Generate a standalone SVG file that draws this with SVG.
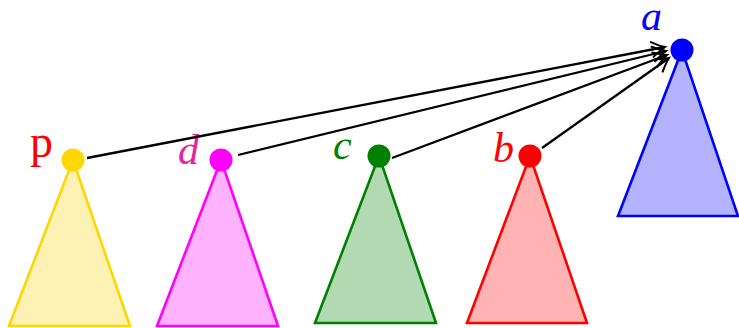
<svg xmlns="http://www.w3.org/2000/svg" width="739" height="328" viewBox="0 0 739 328">
<style>
.tri{stroke-width:2.6;stroke-linejoin:miter}
.lbl{font-family:"Liberation Serif",serif;font-style:italic;font-size:42px}
.mono{font-family:"Liberation Serif",serif;font-size:46px}
.edge{stroke:#000;stroke-width:2.3;fill:none;marker-end:url(#to)}
</style>
<defs>
<marker id="to" markerUnits="userSpaceOnUse" markerWidth="24" markerHeight="24" viewBox="-16 -12 18 24" refX="0" refY="0" orient="auto">
<path d="M -13 -7.5 Q -5 -2 0 0 Q -5 2 -13 7.5" fill="none" stroke="#000" stroke-width="2" stroke-linecap="round"/>
</marker>
</defs>
<g id="node-p">
<polygon class="tri" points="73,160 9,326 130,326" fill="#fdf1b3" stroke="#ffd700"/>
<circle cx="73" cy="160" r="11.5" fill="#ffd700"/>
<text class="mono" x="30" y="157" fill="#ff0000">p</text>
</g>
<g id="node-d">
<polygon class="tri" points="221,160 157,326 278,326" fill="#ffb3ff" stroke="#ff00ff"/>
<circle cx="221" cy="160" r="11.5" fill="#ff00ff"/>
<text class="lbl" x="178" y="164" fill="#e6229e">d</text>
</g>
<g id="node-c">
<polygon class="tri" points="379,156 315,323 436,323" fill="#b3d9b3" stroke="#008000"/>
<circle cx="379" cy="156" r="11.5" fill="#008000"/>
<text class="lbl" x="333" y="159" fill="#008000">c</text>
</g>
<g id="node-b">
<polygon class="tri" points="530,156 467,323 587,323" fill="#ffb3b3" stroke="#ff0000"/>
<circle cx="530" cy="156" r="11.5" fill="#ff0000"/>
<text class="lbl" x="493" y="162" fill="#ff0000">b</text>
</g>
<g id="node-a">
<polygon class="tri" points="682,50 618,216 738,216" fill="#b3b3ff" stroke="#0000ff"/>
<circle cx="682" cy="50" r="11.5" fill="#0000ff"/>
<text class="lbl" x="641" y="30" fill="#0000ff">a</text>
</g>
<g id="connectors">
<line class="edge" x1="87" y1="158" x2="665" y2="47"/>
<line class="edge" x1="238" y1="155" x2="666" y2="51"/>
<line class="edge" x1="392" y1="158" x2="667" y2="55"/>
<line class="edge" x1="542" y1="148" x2="669" y2="58"/>
</g>
</svg>
